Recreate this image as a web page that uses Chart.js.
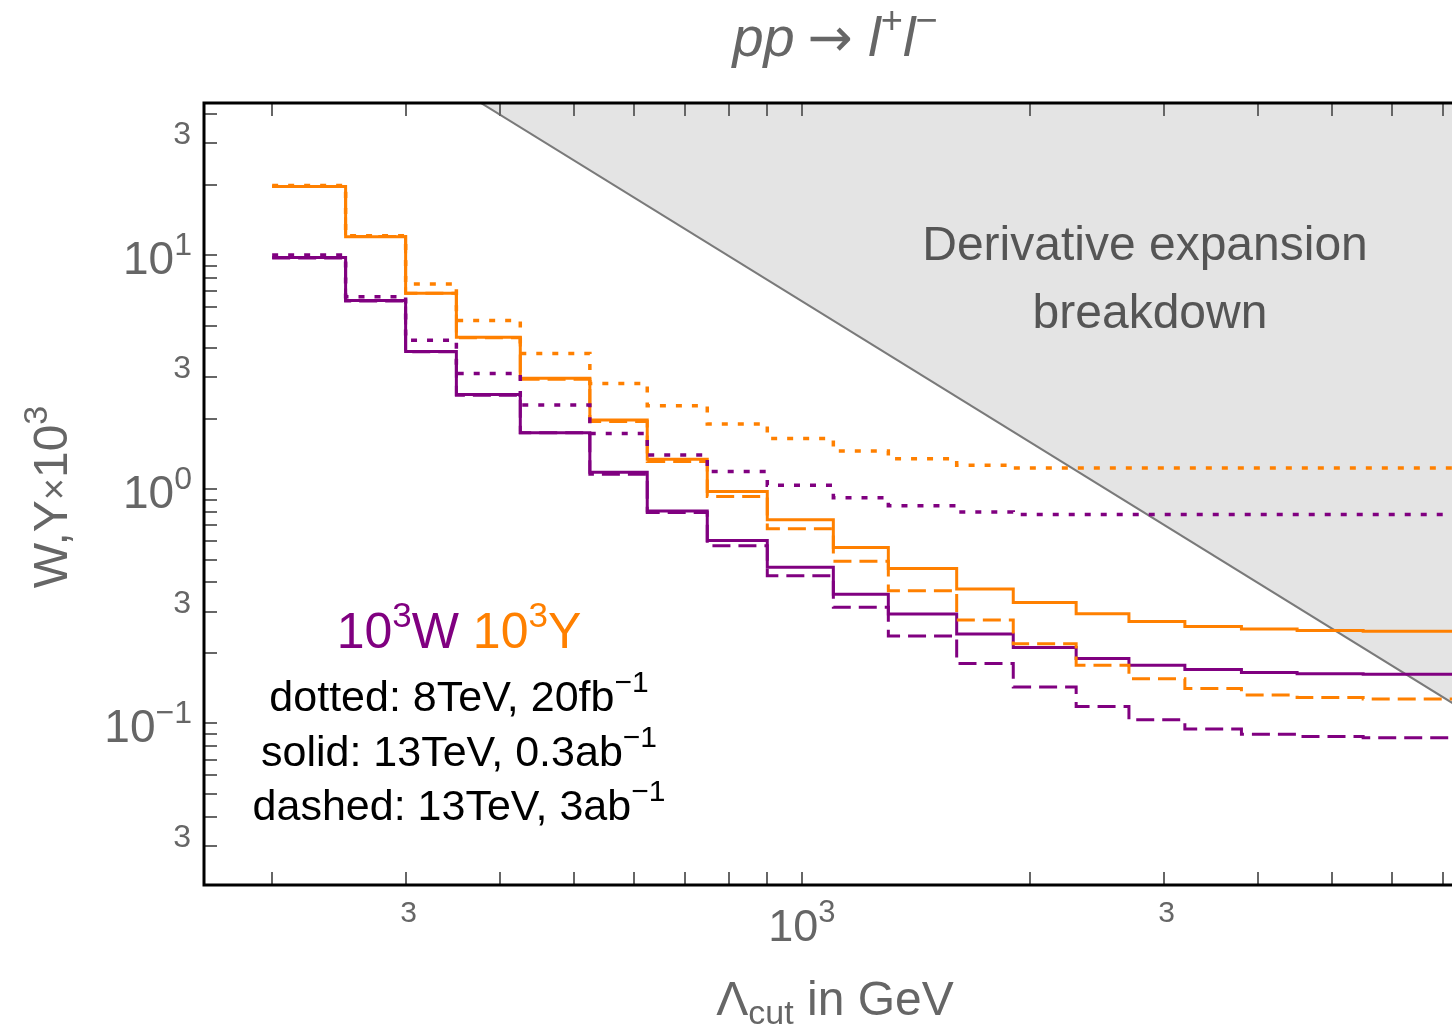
<!DOCTYPE html>
<html>
<head>
<meta charset="utf-8">
<script src="https://cdn.jsdelivr.net/npm/chart.js@4.4.1/dist/chart.umd.min.js"></script>
<style>
  html, body { margin: 0; padding: 0; background: #fff; overflow: hidden; }
</style>
</head>
<body>
<canvas id="limitsChart" width="1452" height="1025"></canvas>
<script>
// Bin edges in GeV: each value holds from edge i to edge i+1
const lambdaEdges = [200, 250, 300, 350, 425, 525, 625, 750, 900, 1100, 1300, 1600, 1900, 2300, 2700, 3200, 3800, 4500, 5500, 8000];

// 10^3 W (purple) and 10^3 Y (orange), one value per bin
const wDotted = [10.0, 6.64, 4.33, 3.12, 2.29, 1.73, 1.40, 1.19, 1.04, 0.92, 0.85, 0.80, 0.78, 0.78, 0.78, 0.78, 0.78, 0.78, 0.78];
const yDotted = [19.8, 12.1, 7.53, 5.25, 3.80, 2.83, 2.27, 1.90, 1.645, 1.457, 1.35, 1.267, 1.233, 1.233, 1.233, 1.233, 1.233, 1.233, 1.233];
const wSolid = [9.75, 6.39, 3.87, 2.54, 1.744, 1.18, 0.808, 0.604, 0.464, 0.356, 0.293, 0.241, 0.211, 0.189, 0.177, 0.170, 0.165, 0.163, 0.162];
const ySolid = [19.6, 11.98, 6.87, 4.46, 2.98, 1.976, 1.341, 0.977, 0.740, 0.563, 0.459, 0.375, 0.328, 0.294, 0.272, 0.259, 0.253, 0.249, 0.2475];
const wDashed = [9.72, 6.37, 3.86, 2.52, 1.74, 1.159, 0.796, 0.574, 0.427, 0.313, 0.236, 0.180, 0.143, 0.118, 0.1035, 0.0947, 0.0899, 0.0878, 0.0867];
const yDashed = [19.6, 12.0, 6.86, 4.43, 2.95, 1.944, 1.312, 0.930, 0.677, 0.492, 0.368, 0.2765, 0.219, 0.177, 0.155, 0.141, 0.132, 0.129, 0.127];

// Derivative expansion breakdown boundary (two points)
const breakdownLambda = [350, 7500];
const breakdownValue = [51.8, 0.113];

// Axis ranges
const xMin = 162.6, xMax = 7204;
const yMin = 0.0204, yMax = 44.6;

// Ticks
const xTicks = [200, 300, 400, 500, 600, 700, 800, 900, 1000, 2000, 3000, 4000, 5000, 6000, 7000];
const xLabelVals = [300, 1000, 3000];
const xLabelText = ['3', '10^3', '3'];
const yLabelVals = [30, 10, 3, 1, 0.3, 0.1, 0.03];
const yLabelText = ['3', '10^1', '3', '10^0', '3', '10^\u22121', '3'];

const colors = {
    purple: '#800080',
    orange: '#ff8000',
    label: '#666666',
    region: '#e4e4e4',
    regionLine: '#7a7a7a',
    regionText: '#555555'
};

const FONT = '"Liberation Sans", Arial, sans-serif';

function stepPoints(values) {
    const pts = values.map((v, i) => ({ x: lambdaEdges[i], y: v }));
    pts.push({ x: lambdaEdges[values.length], y: values[values.length - 1] });
    return pts;
}

function stepDataset(values, color, dash, width, order) {
    return {
        data: stepPoints(values),
        borderColor: color,
        borderWidth: width,
        borderDash: dash,
        borderCapStyle: 'butt',
        borderJoinStyle: 'miter',
        stepped: true,
        fill: false,
        pointRadius: 0,
        order: order
    };
}

function fontOf(r) {
    return (r.italic ? 'italic ' : '') + r.size + 'px ' + (r.family || FONT);
}

function runsWidth(ctx, runs) {
    let w = 0;
    runs.forEach(r => {
        ctx.font = fontOf(r);
        w += ctx.measureText(r.t).width;
    });
    return w;
}

function drawRuns(ctx, runs, x, y, align, color) {
    const w = runsWidth(ctx, runs);
    let cx = align === 'center' ? x - w / 2 : (align === 'right' ? x - w : x);
    ctx.textAlign = 'left';
    ctx.textBaseline = 'alphabetic';
    runs.forEach(r => {
        ctx.font = fontOf(r);
        ctx.fillStyle = r.color || color;
        ctx.fillText(r.t, cx, y + (r.dy || 0));
        cx += ctx.measureText(r.t).width;
    });
}

function powerRuns(text, size) {
    const parts = text.split('^');
    if (parts.length === 1) return [{ t: text, size: size }];
    return [
        { t: parts[0], size: size },
        { t: parts[1], size: Math.round(size * 0.7), dy: -Math.round(size * 0.42) }
    ];
}

const decorations = {
    id: 'decorations',
    afterDatasetsDraw(chart) {
        const ctx = chart.ctx;
        const area = chart.chartArea;
        const xs = chart.scales.x;
        const ys = chart.scales.y;

        ctx.save();
        // tick marks, pointing inward
        ctx.strokeStyle = colors.label;
        ctx.lineWidth = 2;
        ctx.beginPath();
        xTicks.forEach(v => {
            const px = Math.round(xs.getPixelForValue(v));
            ctx.moveTo(px, area.bottom);
            ctx.lineTo(px, area.bottom - 13);
            ctx.moveTo(px, area.top);
            ctx.lineTo(px, area.top + 13);
        });
        for (let d = 0.01; d < 100; d *= 10) {
            for (let m = 1; m <= 9; m++) {
                const v = m * d;
                if (v < yMin || v > yMax) continue;
                const py = Math.round(ys.getPixelForValue(v));
                ctx.moveTo(area.left, py);
                ctx.lineTo(area.left + 13, py);
            }
        }
        ctx.stroke();

        // frame (right side is cut off in the original)
        ctx.strokeStyle = '#000';
        ctx.lineWidth = 3;
        ctx.beginPath();
        ctx.moveTo(area.right + 5, area.top);
        ctx.lineTo(area.left, area.top);
        ctx.lineTo(area.left, area.bottom);
        ctx.lineTo(area.right + 5, area.bottom);
        ctx.stroke();
        ctx.restore();
    },
    afterDraw(chart) {
        const ctx = chart.ctx;
        const xs = chart.scales.x;
        const ys = chart.scales.y;
        ctx.save();

        // y tick labels
        yLabelVals.forEach((v, i) => {
            const py = ys.getPixelForValue(v);
            const txt = yLabelText[i];
            if (txt.indexOf('^') < 0) {
                drawRuns(ctx, powerRuns(txt, 32), 191, py + 1, 'right', colors.label);
            } else {
                drawRuns(ctx, powerRuns(txt, 46), 192, py + 19, 'right', colors.label);
            }
        });

        // x tick labels
        xLabelVals.forEach((v, i) => {
            const px = xs.getPixelForValue(v);
            const txt = xLabelText[i];
            if (txt.indexOf('^') < 0) {
                drawRuns(ctx, powerRuns(txt, 30), px + 3, 922, 'center', colors.label);
            } else {
                drawRuns(ctx, powerRuns(txt, 45), px, 941, 'center', colors.label);
            }
        });

        // title
        drawRuns(ctx, [
            { t: 'pp', size: 56, italic: true },
            { t: ' ', size: 46 },
            { t: '\u2192', size: 54, family: '"DejaVu Sans", sans-serif' },
            { t: ' ', size: 56 },
            { t: 'l', size: 56, italic: true },
            { t: '+', size: 38, dy: -23 },
            { t: 'l', size: 56, italic: true },
            { t: '\u2212', size: 38, dy: -23 }
        ], 835, 56, 'center', colors.label);

        // x axis title
        drawRuns(ctx, [
            { t: '\u039B', size: 48 },
            { t: 'cut', size: 34, dy: 9 },
            { t: ' in GeV', size: 48 }
        ], 835, 1015, 'center', colors.label);

        // y axis title
        ctx.save();
        ctx.translate(67, 497);
        ctx.rotate(-Math.PI / 2);
        drawRuns(ctx, [
            { t: 'W,Y', size: 48 },
            { t: '\u00D7', size: 38 },
            { t: '10', size: 48 },
            { t: '3', size: 34, dy: -20 }
        ], 0, 0, 'center', colors.label);
        ctx.restore();

        // region label
        ctx.fillStyle = colors.regionText;
        ctx.font = '48px ' + FONT;
        ctx.textAlign = 'center';
        ctx.textBaseline = 'alphabetic';
        ctx.fillText('Derivative expansion', 1145, 260);
        ctx.fillText('breakdown', 1150, 328);

        // legend
        drawRuns(ctx, [
            { t: '10', size: 50, color: colors.purple },
            { t: '3', size: 35, dy: -21, color: colors.purple },
            { t: 'W', size: 50, color: colors.purple },
            { t: ' 10', size: 50, color: colors.orange },
            { t: '3', size: 35, dy: -21, color: colors.orange },
            { t: 'Y', size: 50, color: colors.orange }
        ], 459, 648, 'center', '#000');
        const legendLines = [
            ['dotted: 8TeV, 20fb', 711],
            ['solid: 13TeV, 0.3ab', 766],
            ['dashed: 13TeV, 3ab', 820]
        ];
        legendLines.forEach(l => {
            drawRuns(ctx, [
                { t: l[0], size: 43 },
                { t: '\u22121', size: 30, dy: -19 }
            ], 459, l[1], 'center', '#000');
        });

        ctx.restore();
    }
};

const ctx = document.getElementById('limitsChart').getContext('2d');

new Chart(ctx, {
    type: 'line',
    data: {
        datasets: [
            {
                data: breakdownLambda.map((x, i) => ({ x: x, y: breakdownValue[i] })),
                borderColor: colors.regionLine,
                borderWidth: 2,
                backgroundColor: colors.region,
                fill: 'end',
                pointRadius: 0,
                order: 10
            },
            stepDataset(ySolid, colors.orange, [], 3, 5),
            stepDataset(wSolid, colors.purple, [], 3, 4),
            stepDataset(yDashed, colors.orange, [18, 8], 3, 3),
            stepDataset(wDashed, colors.purple, [18, 8], 3, 2),
            stepDataset(yDotted, colors.orange, [6, 10], 3.5, 1),
            stepDataset(wDotted, colors.purple, [6, 10], 3.5, 0)
        ]
    },
    options: {
        responsive: false,
        animation: false,
        devicePixelRatio: 1,
        layout: { padding: { left: 204, right: 0, top: 103, bottom: 140 } },
        plugins: {
            legend: { display: false },
            tooltip: { enabled: false }
        },
        scales: {
            x: { type: 'logarithmic', min: xMin, max: xMax, display: false },
            y: { type: 'logarithmic', min: yMin, max: yMax, display: false }
        }
    },
    plugins: [decorations]
});
</script>
</body>
</html>
